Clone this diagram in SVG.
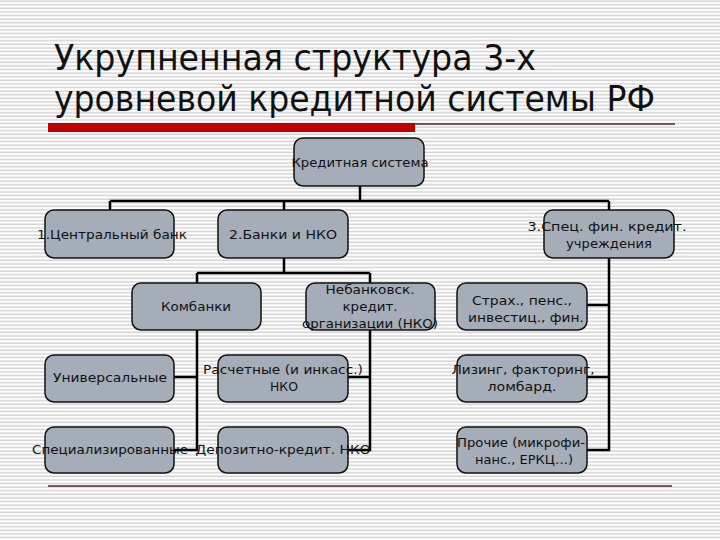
<svg xmlns="http://www.w3.org/2000/svg" width="720" height="540" viewBox="0 0 720 540">
<defs>
<pattern id="stripes" x="0" y="0" width="8" height="3.6" patternUnits="userSpaceOnUse">
<rect x="0" y="0" width="8" height="3.6" fill="#ffffff"/>
<rect x="0" y="0.4" width="8" height="1.5" fill="#d3d3d3"/>
</pattern>
<style>
.box{fill:#a4adb8;stroke:#111;stroke-width:1.5}
.t{font-family:"DejaVu Sans","Liberation Sans",sans-serif;font-size:12.5px;fill:#111;text-anchor:middle}
.title{font-family:"DejaVu Sans","Liberation Sans",sans-serif;font-size:35px;fill:#111}
.con{stroke:#000;stroke-width:2.5;fill:none}
.rule{stroke:#5a2020;stroke-width:1.4}
</style>
</defs>
<rect x="0" y="0" width="720" height="540" fill="url(#stripes)"/>
<g id="title">
<text class="title" x="54" y="70" textLength="482" lengthAdjust="spacingAndGlyphs">Укрупненная структура 3-х</text>
<text class="title" x="54" y="111" textLength="601" lengthAdjust="spacingAndGlyphs">уровневой кредитной системы РФ</text>
<rect x="48" y="123" width="367" height="9" fill="#c00000"/>
<line class="rule" x1="415" y1="124" x2="675" y2="124"/>
<line class="rule" x1="48" y1="486" x2="672" y2="486"/>
</g>
<g id="connectors">
<path class="con" d="M360 186V201M110 201H609M110 201V210M284 201V210"/>
<path class="con" d="M609 201V450H587M587 305H609M587 377H609"/>
<path class="con" d="M284 258V273M197 273H370"/>
<path class="con" d="M197 273V450H174M174 377H197"/>
<path class="con" d="M370 273V450H348M348 377H370"/>
</g>
<g id="n-credit-system">
<rect class="box" x="294" y="138" width="130" height="48" rx="9"/>
<text class="t" x="360" y="167" textLength="137" lengthAdjust="spacingAndGlyphs">Кредитная система</text>
</g>
<g id="n-central-bank">
<rect class="box" x="45" y="210" width="129" height="48" rx="9"/>
<text class="t" x="112" y="239" textLength="150" lengthAdjust="spacingAndGlyphs">1.Центральный банк</text>
</g>
<g id="n-banks-nko">
<rect class="box" x="218" y="210" width="130" height="48" rx="9"/>
<text class="t" x="283" y="239" textLength="108" lengthAdjust="spacingAndGlyphs">2.Банки и НКО</text>
</g>
<g id="n-spec">
<rect class="box" x="544" y="210" width="130" height="48" rx="9"/>
<text class="t" x="607" y="231" textLength="159" lengthAdjust="spacingAndGlyphs">3.Спец. фин. кредит.</text>
<text class="t" x="609" y="248" textLength="86" lengthAdjust="spacingAndGlyphs">учреждения</text>
</g>
<g id="n-combanks">
<rect class="box" x="132" y="283" width="129" height="47" rx="9"/>
<text class="t" x="196" y="311" textLength="70" lengthAdjust="spacingAndGlyphs">Комбанки</text>
</g>
<g id="n-nko">
<rect class="box" x="306" y="283" width="129" height="47" rx="9"/>
<text class="t" x="370" y="294" textLength="89" lengthAdjust="spacingAndGlyphs">Небанковск.</text>
<text class="t" x="370" y="311" textLength="55" lengthAdjust="spacingAndGlyphs">кредит.</text>
<text class="t" x="370" y="328" textLength="136" lengthAdjust="spacingAndGlyphs">организации (НКО)</text>
</g>
<g id="n-insurance">
<rect class="box" x="457" y="283" width="130" height="47" rx="9"/>
<text class="t" x="522" y="305" textLength="100" lengthAdjust="spacingAndGlyphs">Страх., пенс.,</text>
<text class="t" x="526" y="322" textLength="116" lengthAdjust="spacingAndGlyphs">инвестиц., фин.</text>
</g>
<g id="n-universal">
<rect class="box" x="45" y="355" width="129" height="47" rx="9"/>
<text class="t" x="110" y="382" textLength="114" lengthAdjust="spacingAndGlyphs">Универсальные</text>
</g>
<g id="n-settlement">
<rect class="box" x="218" y="355" width="130" height="47" rx="9"/>
<text class="t" x="283" y="374" textLength="160" lengthAdjust="spacingAndGlyphs">Расчетные (и инкасс.)</text>
<text class="t" x="284" y="391" textLength="28" lengthAdjust="spacingAndGlyphs">НКО</text>
</g>
<g id="n-leasing">
<rect class="box" x="457" y="355" width="130" height="47" rx="9"/>
<text class="t" x="523" y="374" textLength="143" lengthAdjust="spacingAndGlyphs">Лизинг, факторинг,</text>
<text class="t" x="522" y="391" textLength="69" lengthAdjust="spacingAndGlyphs">ломбард.</text>
</g>
<g id="n-specialized">
<rect class="box" x="45" y="427" width="129" height="46" rx="9"/>
<text class="t" x="110" y="454" textLength="156" lengthAdjust="spacingAndGlyphs">Специализированные</text>
</g>
<g id="n-deposit">
<rect class="box" x="218" y="427" width="130" height="46" rx="9"/>
<text class="t" x="283" y="454" textLength="175" lengthAdjust="spacingAndGlyphs">Депозитно-кредит. НКО</text>
</g>
<g id="n-other">
<rect class="box" x="457" y="427" width="130" height="46" rx="9"/>
<text class="t" x="521" y="447" textLength="128" lengthAdjust="spacingAndGlyphs">Прочие (микрофи-</text>
<text class="t" x="524" y="464" textLength="98" lengthAdjust="spacingAndGlyphs">нанс., ЕРКЦ…)</text>
</g>
</svg>
